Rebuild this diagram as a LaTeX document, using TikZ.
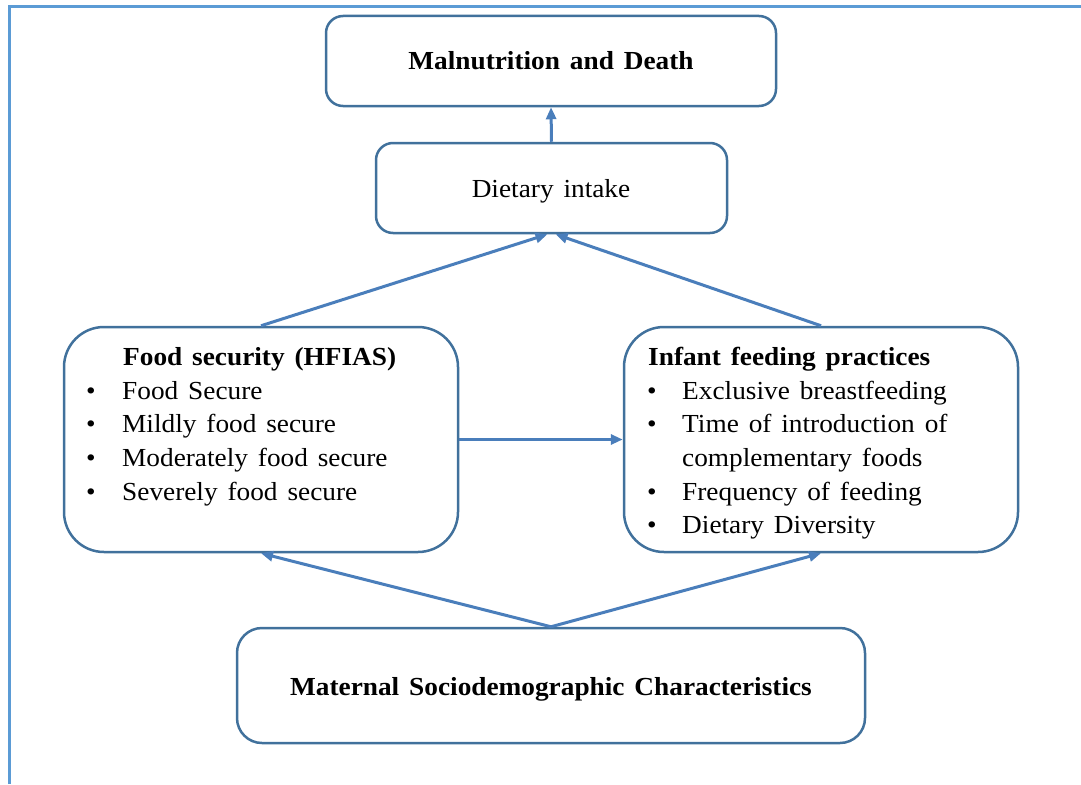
\documentclass[tikz,border=0pt]{standalone}
\usepackage{fontspec}
\setmainfont{Liberation Serif}[FakeStretch=1.05,WordSpace=1.45]
\usetikzlibrary{arrows.meta,calc}
\definecolor{boxline}{RGB}{65,113,156}
\definecolor{arrowc}{RGB}{74,126,187}
\definecolor{framec}{RGB}{91,155,213}
\begin{document}
\begin{tikzpicture}[x=1pt,y=-1pt,
  box/.style={draw=boxline,line width=2.5pt,rectangle,inner sep=0pt},
  txt/.style={font=\fontsize{26}{30}\selectfont,inner sep=0pt,anchor=base west},
  ctxt/.style={font=\fontsize{26}{30}\selectfont,inner sep=0pt,anchor=base},
  bul/.style={font=\fontsize{26}{30}\selectfont,inner sep=0pt,anchor=base},
  arr/.style={draw=arrowc,line width=3pt,-{Triangle[length=12pt,width=10pt]}}]
\useasboundingbox (0,0) rectangle (1081,784);
% frame
\draw[framec,line width=3pt] (9,784) -- (9,7) -- (1081,7);
% boxes
\node[box,rounded corners=17pt,minimum width=450pt,minimum height=90pt] (mal) at (551,61) {};
\node[box,rounded corners=17pt,minimum width=351pt,minimum height=90pt] (di) at (551.5,188) {};
\node[box,rounded corners=40pt,minimum width=394pt,minimum height=225pt] (fs) at (261,439.5) {};
\node[box,rounded corners=40pt,minimum width=394pt,minimum height=225pt] (inf) at (821,439.5) {};
\node[box,rounded corners=25pt,minimum width=628pt,minimum height=115pt] (mat) at (551,685.5) {};
% texts
\node[ctxt] (t1) at (551,70) {\bfseries Malnutrition and Death};
\node[ctxt] (t2) at (551,197) {Dietary intake};
\node[ctxt] (t3) at (551,695) {\bfseries Maternal Sociodemographic Characteristics};
\node[txt] (f0) at (123,365) {\bfseries Food security (HFIAS)};
\node[bul] (fb1) at (91,399) {•};
\node[txt] (f1) at (122,399) {Food Secure};
\node[bul] (fb2) at (91,432) {•};
\node[txt] (f2) at (122,432) {Mildly food secure};
\node[bul] (fb3) at (91,466) {•};
\node[txt] (f3) at (122,466) {Moderately food secure};
\node[bul] (fb4) at (91,500) {•};
\node[txt] (f4) at (122,500) {Severely food secure};
\node[txt] (i0) at (648,365) {\bfseries Infant feeding practices};
\node[bul] (ib1) at (652,399) {•};
\node[txt] (i1) at (682,399) {Exclusive breastfeeding};
\node[bul] (ib2) at (652,432) {•};
\node[txt] (i2) at (682,432) {Time of introduction of};
\node[txt] (i3) at (682,466) {complementary foods};
\node[bul] (ib4) at (652,500) {•};
\node[txt] (i4) at (682,500) {Frequency of feeding};
\node[bul] (ib5) at (652,533) {•};
\node[txt] (i5) at (682,533) {Dietary Diversity};
% arrows
\draw[arr] (di.north) -- (mal.south);
\draw[arr] (fs.north) -- ($(di.south)+(-4,0)$);
\draw[arr] (inf.north) -- ($(di.south)+(4,0)$);
\draw[arr] (fs.east) -- (inf.west);
\draw[arr] (mat.north) -- (fs.south);
\draw[arr] (mat.north) -- (inf.south);
\end{tikzpicture}
\end{document}
